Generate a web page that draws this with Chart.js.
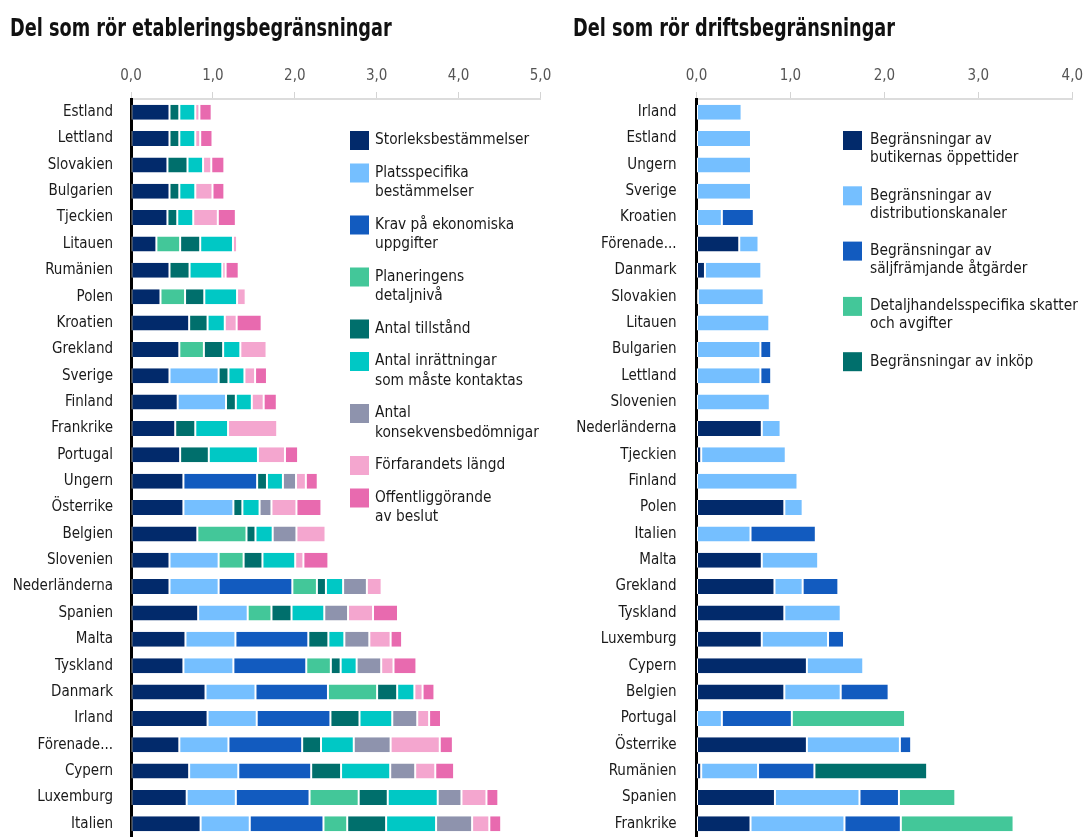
<!DOCTYPE html>
<html>
<head>
<meta charset="utf-8">
<script src="https://cdn.jsdelivr.net/npm/chart.js@4.4.1/dist/chart.umd.min.js"></script>
<style>
  body { margin: 0; background: #fff; }
  #wrap { position: relative; width: 1090px; height: 837px; overflow: hidden; }
  #left { position: absolute; left: 0; top: 0; }
  #right { position: absolute; left: 560px; top: 0; }
</style>
</head>
<body>
<div id="wrap">
  <canvas id="left" width="560" height="837"></canvas>
  <canvas id="right" width="530" height="837"></canvas>
</div>
<script>
// ---- data, left chart (etablering) ----
var estCountries = ["Estland", "Lettland", "Slovakien", "Bulgarien", "Tjeckien", "Litauen", "Rumänien",
  "Polen", "Kroatien", "Grekland", "Sverige", "Finland", "Frankrike", "Portugal", "Ungern", "Österrike",
  "Belgien", "Slovenien", "Nederländerna", "Spanien", "Malta", "Tyskland", "Danmark", "Irland",
  "Förenade...", "Cypern", "Luxemburg", "Italien"];

var estNames = [
  ["Storleksbestämmelser"],
  ["Platsspecifika", "bestämmelser"],
  ["Krav på ekonomiska", "uppgifter"],
  ["Planeringens", "detaljnivå"],
  ["Antal tillstånd"],
  ["Antal inrättningar", "som måste kontaktas"],
  ["Antal", "konsekvensbedömnigar"],
  ["Förfarandets längd"],
  ["Offentliggörande", "av beslut"]
];

var storlek   = [0.47, 0.47, 0.445, 0.47, 0.445, 0.31, 0.47, 0.36, 0.71, 0.59, 0.47, 0.57, 0.54, 0.60, 0.64, 0.64, 0.81, 0.47, 0.47, 0.82, 0.665, 0.64, 0.91, 0.935, 0.59, 0.71, 0.68, 0.85];
var platsspec = [0, 0, 0, 0, 0, 0, 0, 0, 0, 0, 0.60, 0.59, 0, 0, 0, 0.61, 0, 0.60, 0.60, 0.605, 0.61, 0.61, 0.61, 0.60, 0.60, 0.60, 0.60, 0.60];
var ekonomi   = [0, 0, 0, 0, 0, 0, 0, 0, 0, 0, 0, 0, 0, 0, 0.90, 0, 0, 0, 0.90, 0, 0.89, 0.89, 0.885, 0.90, 0.90, 0.89, 0.90, 0.90];
var planering = [0, 0, 0, 0, 0, 0.29, 0, 0.30, 0, 0.30, 0, 0, 0, 0, 0, 0, 0.60, 0.305, 0.30, 0.29, 0, 0.30, 0.60, 0, 0, 0, 0.60, 0.29];
var tillstand = [0.12, 0.12, 0.245, 0.12, 0.12, 0.245, 0.245, 0.235, 0.225, 0.235, 0.12, 0.12, 0.245, 0.35, 0.12, 0.11, 0.11, 0.23, 0.11, 0.245, 0.245, 0.12, 0.245, 0.355, 0.23, 0.365, 0.355, 0.475];
var kontakt   = [0.195, 0.195, 0.19, 0.195, 0.195, 0.40, 0.40, 0.40, 0.21, 0.21, 0.195, 0.195, 0.40, 0.60, 0.195, 0.21, 0.21, 0.40, 0.21, 0.40, 0.195, 0.195, 0.21, 0.40, 0.40, 0.60, 0.61, 0.61];
var konsekv   = [0, 0, 0, 0, 0, 0, 0, 0, 0, 0, 0, 0, 0, 0, 0.16, 0.145, 0.29, 0, 0.29, 0.29, 0.305, 0.30, 0, 0.305, 0.45, 0.305, 0.29, 0.44];
var langd     = [0.05, 0.06, 0.10, 0.21, 0.30, 0.05, 0.04, 0.105, 0.145, 0.32, 0.13, 0.145, 0.60, 0.33, 0.12, 0.305, 0.355, 0.10, 0.18, 0.305, 0.26, 0.15, 0.10, 0.145, 0.60, 0.245, 0.305, 0.21];
var offentl   = [0.15, 0.15, 0.16, 0.145, 0.22, 0, 0.16, 0, 0.305, 0, 0.145, 0.16, 0, 0.16, 0.145, 0.305, 0, 0.305, 0, 0.305, 0.14, 0.28, 0.145, 0.145, 0.16, 0.23, 0.145, 0.145];

// ---- data, right chart (drift) ----
var driftCountries = ["Irland", "Estland", "Ungern", "Sverige", "Kroatien", "Förenade...", "Danmark",
  "Slovakien", "Litauen", "Bulgarien", "Lettland", "Slovenien", "Nederländerna", "Tjeckien", "Finland",
  "Polen", "Italien", "Malta", "Grekland", "Tyskland", "Luxemburg", "Cypern", "Belgien", "Portugal",
  "Österrike", "Rumänien", "Spanien", "Frankrike"];

var driftNames = [
  ["Begränsningar av", "butikernas öppettider"],
  ["Begränsningar av", "distributionskanaler"],
  ["Begränsningar av", "säljfrämjande åtgärder"],
  ["Detaljhandelsspecifika skatter", "och avgifter"],
  ["Begränsningar av inköp"]
];

var oppettider = [0, 0, 0, 0, 0, 0.455, 0.09, 0.015, 0, 0, 0, 0, 0.695, 0.05, 0, 0.935, 0, 0.695, 0.83, 0.935, 0.695, 1.175, 0.935, 0, 1.175, 0.05, 0.835, 0.575];
var distrib    = [0.48, 0.58, 0.58, 0.58, 0.27, 0.205, 0.60, 0.70, 0.775, 0.68, 0.68, 0.78, 0.20, 0.90, 1.075, 0.195, 0.575, 0.60, 0.30, 0.60, 0.705, 0.60, 0.60, 0.27, 0.99, 0.605, 0.90, 1.0];
var saljfram   = [0, 0, 0, 0, 0.34, 0, 0, 0, 0, 0.115, 0.115, 0.015, 0, 0, 0, 0, 0.695, 0, 0.38, 0, 0.17, 0, 0.51, 0.745, 0.12, 0.60, 0.42, 0.60];
var skatter    = [0, 0, 0, 0, 0, 0, 0, 0, 0, 0, 0, 0, 0, 0, 0, 0, 0, 0, 0, 0, 0, 0, 0, 1.205, 0, 0, 0.60, 1.20];
var inkop      = [0, 0, 0, 0, 0, 0, 0, 0, 0, 0, 0, 0, 0, 0, 0, 0, 0, 0, 0, 0, 0, 0, 0, 0, 0, 1.20, 0, 0];

var NAVY = "#022a6b", LBLUE = "#75bfff", BLUE = "#125bbf", GREEN = "#43c799",
    TEAL = "#006f6c", CYAN = "#00c8c5", GREY = "#8e93ad", LPINK = "#f4a6cf", PINK = "#e86aaf";

var FONT = "'Liberation Sans Narrow', 'DejaVu Sans Condensed', 'Arial Narrow', sans-serif";
Chart.defaults.font.family = FONT;
Chart.defaults.color = "#1a1a1a";

// title squeezed a bit sideways, the original uses a narrow face
var sideTitle = {
  id: 'sideTitle',
  afterDraw: function (chart, args, o) {
    var ctx = chart.ctx;
    ctx.save();
    ctx.font = "bold 24px " + FONT;
    ctx.fillStyle = "#111";
    ctx.textBaseline = 'alphabetic';
    ctx.textAlign = 'left';
    ctx.translate(o.x, o.y);
    ctx.scale(0.82, 1);
    ctx.fillText(o.text, 0, 0);
    ctx.restore();
  }
};

// legend drawn inside the plot, boxes + multi-line labels
var boxLegend = {
  id: 'boxLegend',
  afterDraw: function (chart, args, opts) {
    var ctx = chart.ctx;
    var y = opts.top;
    ctx.save();
    ctx.font = opts.font;
    ctx.textBaseline = 'middle';
    ctx.textAlign = 'left';
    chart.data.datasets.forEach(function (ds) {
      ctx.fillStyle = ds.backgroundColor;
      ctx.fillRect(opts.left, y, opts.box, opts.box);
      ctx.fillStyle = "#1a1a1a";
      ds.lines.forEach(function (t, i) {
        ctx.fillText(t, opts.textLeft, y + opts.box / 2 + i * opts.lineHeight);
      });
      y += ds.lines.length * opts.lineHeight + opts.gap;
    });
    ctx.restore();
  }
};

function mkSets(series, names, colors) {
  return series.map(function (vals, i) {
    return {
      label: names[i].join(' '),
      lines: names[i],
      data: vals.map(function (v) { return v === 0 ? null : v; }),
      backgroundColor: colors[i],
      borderColor: "#fff",
      borderWidth: { left: 1, right: 1, top: 0, bottom: 0 },
      borderSkipped: false,
      barPercentage: 0.57,
      categoryPercentage: 1
    };
  });
}

function mkChart(el, labels, sets, maxX, title, padRight, yWidth, yPad, legend) {
  return new Chart(document.getElementById(el), {
    type: 'bar',
    data: { labels: labels, datasets: sets },
    plugins: [sideTitle, boxLegend],
    options: {
      indexAxis: 'y',
      responsive: false,
      animation: false,
      layout: { padding: { left: 0, right: padRight, top: 60, bottom: 0 } },
      plugins: {
        legend: { display: false },
        tooltip: { enabled: false },
        title: { display: false },
        sideTitle: title,
        boxLegend: legend
      },
      scales: {
        x: {
          position: 'top',
          stacked: true,
          min: 0,
          max: maxX,
          ticks: {
            stepSize: 1,
            padding: 7,
            color: "#555",
            font: { size: 15 },
            callback: function (v) { return v.toFixed(1).replace('.', ','); }
          },
          grid: { drawOnChartArea: false, drawTicks: true, tickLength: 7, color: "#d4d4d4" },
          border: { display: true, color: "#dcdcdc", width: 2 }
        },
        y: {
          stacked: true,
          afterFit: function (s) {
            s.width = yWidth;
            s.paddingTop = 0;
            s.paddingBottom = 0;
          },
          ticks: { padding: yPad, color: "#1a1a1a", font: { size: 15 }, autoSkip: false },
          grid: { display: false, drawTicks: false },
          border: { display: true, color: "#000", width: 3 }
        }
      }
    }
  });
}

var leftSets = mkSets([storlek, platsspec, ekonomi, planering, tillstand, kontakt, konsekv, langd, offentl],
  estNames, [NAVY, LBLUE, BLUE, GREEN, TEAL, CYAN, GREY, LPINK, PINK]);
var rightSets = mkSets([oppettider, distrib, saljfram, skatter, inkop],
  driftNames, [NAVY, LBLUE, BLUE, GREEN, TEAL]);

mkChart('left', estCountries, leftSets, 5,
  { text: "Del som rör etableringsbegränsningar", x: 10, y: 36 }, 19.5, 131, 18,
  { top: 131, left: 350, textLeft: 375, box: 19, lineHeight: 19.5, gap: 13, font: "15.3px " + FONT });
mkChart('right', driftCountries, rightSets, 4,
  { text: "Del som rör driftsbegränsningar", x: 13, y: 36 }, 14.5, 136.5, 20,
  { top: 131, left: 283, textLeft: 310, box: 19, lineHeight: 18, gap: 19.3, font: "15.3px " + FONT });
</script>
</body>
</html>
